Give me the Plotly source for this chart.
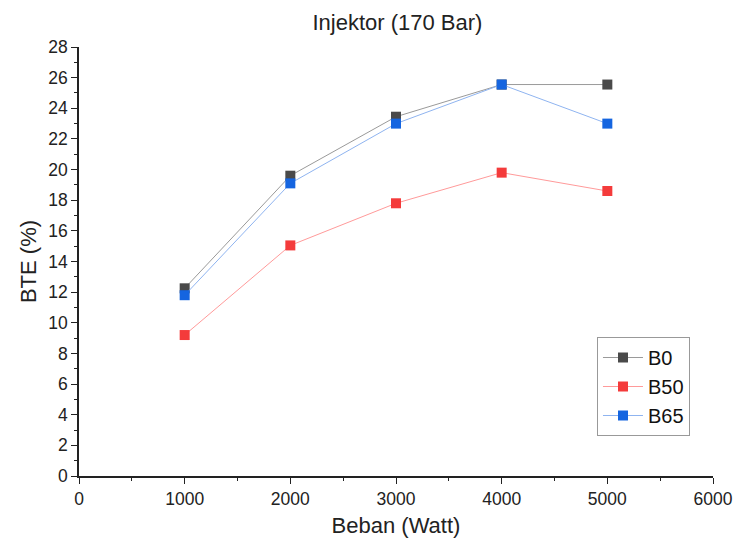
import plotly.graph_objects as go

beban = [1000, 2000, 3000, 4000, 5000]
b0 = [12.25, 19.6, 23.45, 25.55, 25.55]
b50 = [9.2, 15.05, 17.8, 19.8, 18.6]
b65 = [11.8, 19.1, 23.0, 25.55, 23.0]

series = [
    ("B0", b0, "#4a4a4a", "#9a9a9a"),
    ("B50", b50, "#f43b3b", "#ff9a9a"),
    ("B65", b65, "#1565e0", "#8fb4f0"),
]

fig = go.Figure()
for name, vals, mc, lc in series:
    fig.add_trace(go.Scatter(
        x=beban, y=vals, name=name, mode="lines+markers",
        line=dict(color=lc, width=1),
        marker=dict(symbol="square", size=10, color=mc, line=dict(width=0)),
    ))

font = "Liberation Sans, Arial, sans-serif"
fig.update_layout(
    width=747, height=542,
    margin=dict(l=79, r=34, t=47, b=66, autoexpand=False),
    paper_bgcolor="white", plot_bgcolor="white",
    font=dict(family=font, color="#222"),
    title=dict(text="Injektor (170 Bar)", x=0.532, xanchor="center", y=0.958, yanchor="middle",
               font=dict(size=22, color="#222")),
    showlegend=True,
    legend=dict(x=0.817, y=0.324, xanchor="left", yanchor="top",
                bordercolor="#999", borderwidth=1, bgcolor="white",
                font=dict(size=20, color="#111"), tracegroupgap=0, itemwidth=40),
    xaxis=dict(range=[0, 6000], tickvals=[0, 1000, 2000, 3000, 4000, 5000, 6000],
               automargin=False,
               showgrid=False, zeroline=False, showline=True, linecolor="#222", linewidth=1.5,
               ticks="outside", ticklen=6, tickwidth=1.2, tickcolor="#222",
               minor=dict(ticks="outside", ticklen=3, dtick=500, tickcolor="#222", showgrid=False),
               tickfont=dict(size=17.5, color="#222"),
               title=dict(text="Beban (Watt)", font=dict(size=22, color="#222"), standoff=10)),
    yaxis=dict(range=[0, 28], dtick=2,
               automargin=False,
               showgrid=False, zeroline=False, showline=True, linecolor="#222", linewidth=1.5,
               ticks="outside", ticklen=6, tickwidth=1.2, tickcolor="#222",
               minor=dict(ticks="outside", ticklen=3, dtick=1, tickcolor="#222", showgrid=False),
               tickfont=dict(size=17.5, color="#222"),
               title=dict(text="BTE (%)", font=dict(size=22, color="#222"), standoff=6)),
)

fig.write_html("out.html")
